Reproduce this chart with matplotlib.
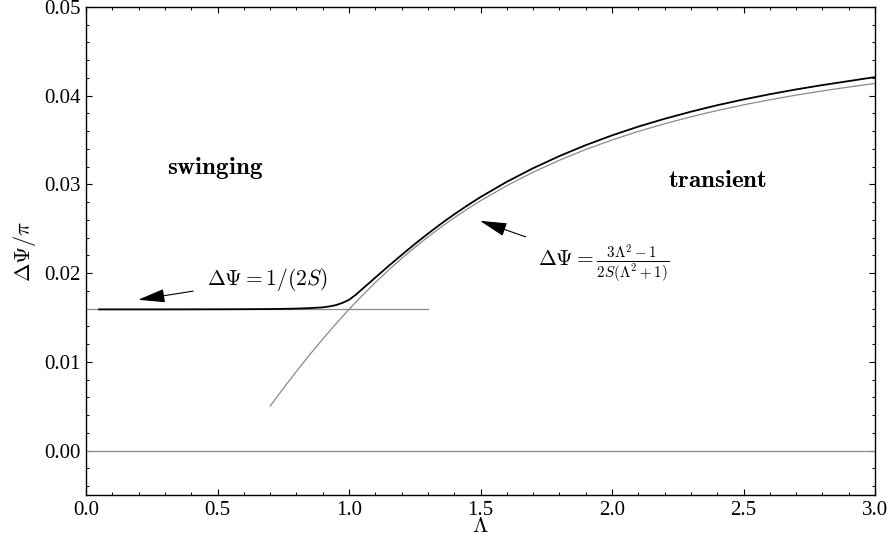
import matplotlib
matplotlib.use("Agg")
import matplotlib.pyplot as plt
from matplotlib.ticker import MultipleLocator, FormatStrFormatter

plt.rcParams['mathtext.fontset'] = 'cm'
plt.rcParams['font.family'] = ['Liberation Serif', 'DejaVu Serif']

# Full solution (black)
lam_full = [0.05, 0.3, 0.5, 0.6, 0.7, 0.75, 0.8, 0.85, 0.9, 0.925, 0.95, 0.975, 1.0,
            1.025, 1.05, 1.075, 1.1, 1.125, 1.15, 1.2, 1.25, 1.3, 1.35, 1.4, 1.45,
            1.5, 1.6, 1.7, 1.8, 1.9, 2.0, 2.1, 2.2, 2.3, 2.4, 2.5, 2.6, 2.7, 2.8,
            2.9, 3.0]
psi_full = [0.01592, 0.01592, 0.01593, 0.01594, 0.01596, 0.01598, 0.01601, 0.01606,
            0.01615, 0.01625, 0.01640, 0.01665, 0.01700, 0.01755, 0.01820, 0.01885,
            0.01950, 0.02015, 0.02080, 0.02205, 0.02328, 0.02445, 0.02557, 0.02663,
            0.02763, 0.02858, 0.03030, 0.03183, 0.03320, 0.03443, 0.03553, 0.03652,
            0.03740, 0.03820, 0.03893, 0.03958, 0.04017, 0.04071, 0.04120, 0.04165,
            0.04210]

# Transient asymptote (gray)
lam_trans = [0.7, 0.75, 0.8, 0.85, 0.9, 0.95, 1.0, 1.05, 1.1, 1.15, 1.2, 1.25, 1.3,
             1.35, 1.4, 1.45, 1.5, 1.6, 1.7, 1.8, 1.9, 2.0, 2.1, 2.2, 2.3, 2.4, 2.5,
             2.6, 2.7, 2.8, 2.9, 3.0]
psi_trans = [0.00502, 0.00700, 0.00893, 0.01079, 0.01257, 0.01428, 0.01592, 0.01747,
             0.01894, 0.02034, 0.02166, 0.02290, 0.02408, 0.02519, 0.02624, 0.02723,
             0.02816, 0.02986, 0.03138, 0.03273, 0.03394, 0.03501, 0.03598, 0.03684,
             0.03763, 0.03833, 0.03897, 0.03954, 0.04007, 0.04054, 0.04098, 0.04138]

# Swinging asymptote (gray horizontal)
lam_swing = [0.0, 1.3]
psi_swing = [0.01592, 0.01592]

fig = plt.figure(figsize=(8.91, 5.43), dpi=100)
ax = fig.add_axes([86/891, 48/543, (875-86)/891, (495-7)/543])

ax.axhline(0.0, color='#8a8a8a', lw=0.9)
ax.plot(lam_swing, psi_swing, color='#8a8a8a', lw=0.9)
ax.plot(lam_trans, psi_trans, color='#8a8a8a', lw=0.9)
ax.plot(lam_full, psi_full, color='black', lw=1.3)

ax.set_xlim(0, 3.0)
ax.set_ylim(-0.005, 0.05)
ax.xaxis.set_major_locator(MultipleLocator(0.5))
ax.xaxis.set_minor_locator(MultipleLocator(0.1))
ax.yaxis.set_major_locator(MultipleLocator(0.01))
ax.yaxis.set_minor_locator(MultipleLocator(0.002))
ax.xaxis.set_major_formatter(FormatStrFormatter('%.1f'))
ax.yaxis.set_major_formatter(FormatStrFormatter('%.2f'))
ax.tick_params(which='both', direction='in', top=True, right=True, labelsize=15)
ax.tick_params(which='major', length=4.5, width=0.8, pad=4)
ax.tick_params(which='minor', length=2.5, width=0.7)
for s in ax.spines.values():
    s.set_linewidth(1.0)

ax.set_xlabel(r'$\Lambda$', fontsize=16, labelpad=-1)
ax.set_ylabel(r'$\Delta\Psi/\pi$', fontsize=16, labelpad=4)

ax.text(0.49, 0.0319, r'$\mathbf{swinging}$', fontsize=18, ha='center', va='center')
ax.text(2.40, 0.0304, r'$\mathbf{transient}$', fontsize=18, ha='center', va='center')

arrow_style = '-|>,head_length=0.6,head_width=0.15'
ax.annotate(r'$\Delta\Psi = 1/(2S)$', xy=(0.198, 0.0170), xytext=(0.46, 0.0193),
            fontsize=15.5, ha='left', va='center',
            arrowprops=dict(arrowstyle=arrow_style, color='black', lw=0.8,
                            mutation_scale=28, shrinkA=8, shrinkB=0))
ax.annotate(r'$\Delta\Psi = \frac{3\Lambda^2-1}{2S(\Lambda^2+1)}$', xy=(1.498, 0.0259),
            xytext=(1.72, 0.0210), fontsize=15.5, ha='left', va='center',
            arrowprops=dict(arrowstyle=arrow_style, color='black', lw=0.8,
                            mutation_scale=28, shrinkA=8, shrinkB=0))

fig.savefig('out.png', dpi=100)
